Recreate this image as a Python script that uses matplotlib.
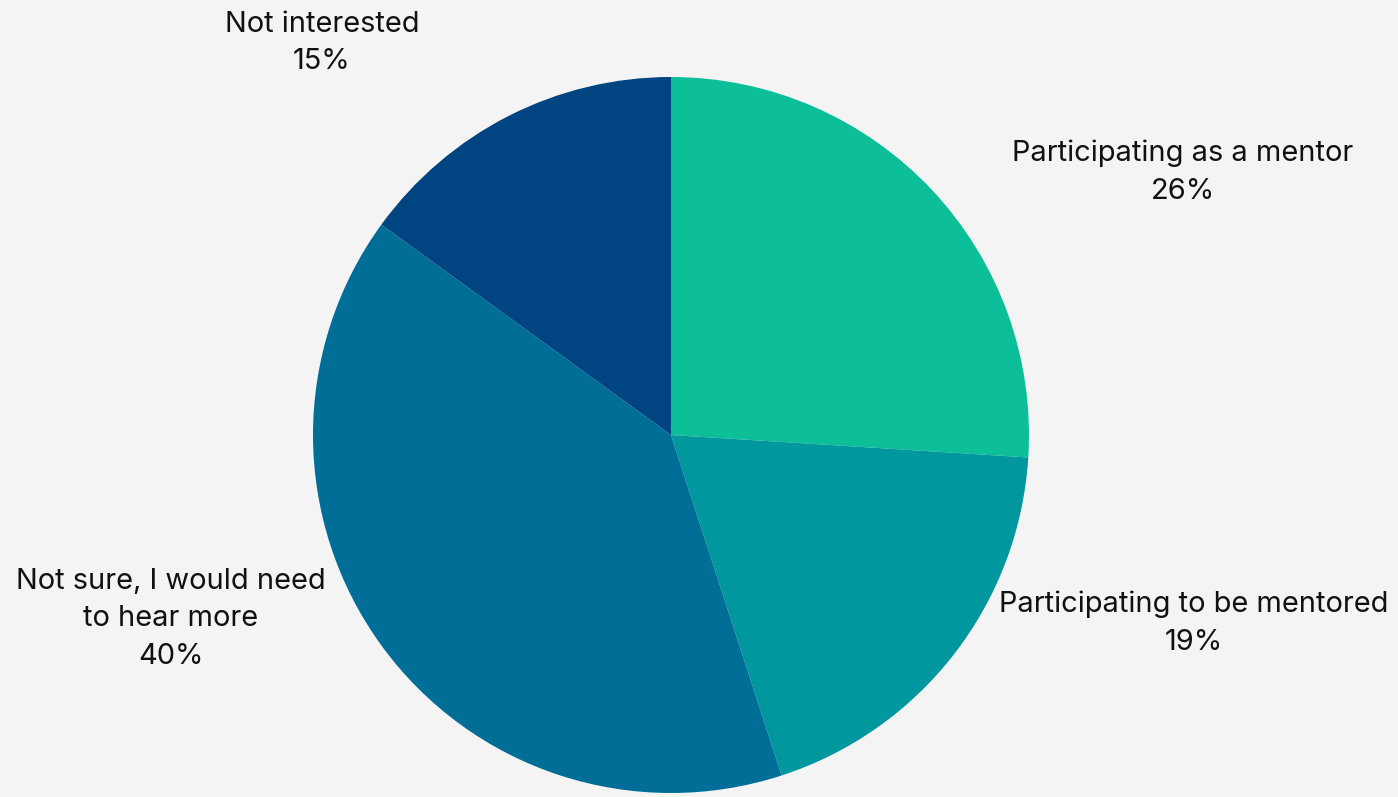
import matplotlib.pyplot as plt

labels = ["Participating as a mentor", "Participating to be mentored",
          "Not sure, I would need\nto hear more", "Not interested"]
shares = [26, 19, 40, 15]
colors = ["#0dbf99", "#00979f", "#006e96", "#004581"]

# label centres in pixels (x from left, y from top)
label_pos = [(1183, 172), (1194, 623), (171, 619), (322, 43)]

W, H = 1398, 797
plt.rcParams['font.family'] = ['Inter', 'DejaVu Sans']

fig = plt.figure(figsize=(W / 100, H / 100), dpi=100, facecolor="#f4f4f4")
ax = fig.add_axes([0, 0, 1, 1])
ax.set_facecolor("#f4f4f4")

ax.pie(shares, colors=colors, startangle=90, counterclock=False,
       center=(671, H - 435), radius=358, frame=True,
       wedgeprops=dict(linewidth=0))
ax.set_xlim(0, W)
ax.set_ylim(0, H)
ax.set_aspect("equal")
ax.axis("off")

for lab, val, (x, y) in zip(labels, shares, label_pos):
    ax.text(x, H - y, f"{lab}\n{val}%", ha="center", va="center",
            fontsize=20.9, color="#111111", linespacing=1.52)

fig.savefig("out.png", dpi=100, facecolor=fig.get_facecolor())
